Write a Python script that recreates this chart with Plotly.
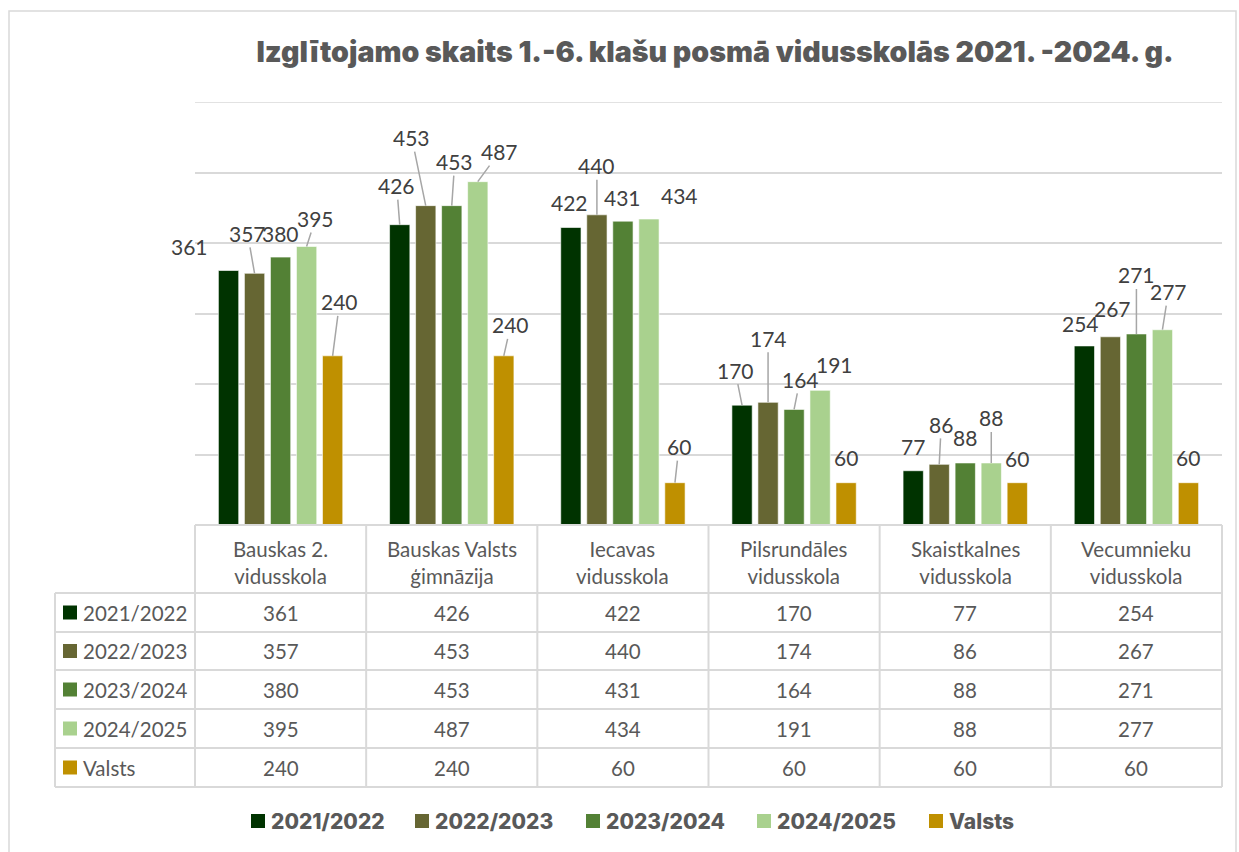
import plotly.graph_objects as go

# ---------------- data ----------------
categories = ["Bauskas 2. vidusskola", "Bauskas Valsts ģimnāzija", "Iecavas vidusskola",
              "Pilsrundāles vidusskola", "Skaistkalnes vidusskola", "Vecumnieku vidusskola"]
header_labels = ["Bauskas 2.<br>vidusskola", "Bauskas Valsts<br>ģimnāzija", "Iecavas<br>vidusskola",
                 "Pilsrundāles<br>vidusskola", "Skaistkalnes<br>vidusskola", "Vecumnieku<br>vidusskola"]
series_names = ["2021/2022", "2022/2023", "2023/2024", "2024/2025", "Valsts"]
v2021 = [361, 426, 422, 170, 77, 254]
v2022 = [357, 453, 440, 174, 86, 267]
v2023 = [380, 453, 431, 164, 88, 271]
v2024 = [395, 487, 434, 191, 88, 277]
valsts = [240, 240, 60, 60, 60, 60]
series_values = [v2021, v2022, v2023, v2024, valsts]
colors = ["#003300", "#666633", "#538135", "#A9D18E", "#BF9000"]
title_text = "Izglītojamo skaits 1.-6. klašu posmā vidusskolās 2021. -2024. g."

# label placement (pixel offsets of label from bar top, leader line shown or not)
label_pos = [
    [(-39, -24, 0), (-3, -39, 1), (-1, -25, 0), (-7, -35, 1), (0, -24, 0), (-4, -22, 0)],
    [(-7, -40, 1), (-14, -68, 1), (0, -49, 1), (0, -64, 1), (2, -40, 1), (2, -28, 0)],
    [(0, -24, 0), (3, -44, 1), (0, -24, 0), (6, -30, 1), (0, -25, 0), (0, -59, 1)],
    [(9, -28, 1), (22, -30, 1), (31, -24, 0), (14, -26, 0), (0, -45, 1), (6, -38, 1)],
    [(7, -54, 1), (7, -31, 1), (4, -36, 1), (0, -25, 0), (0, -24, 0), (0, -25, 0)],
]

# ---------------- layout geometry (pixels) ----------------
W, H = 1239, 852
PL, PR, PT, PB = 195, 1222, 102, 525
BARGAP, GROUPGAP = 0.24, 0.22
TBL_LEFT = 55
ROW_EDGES = [593, 632, 670, 709, 748, 787]
GRID = "#D9D9D9"
TXT = "#595959"
LBL = "#404040"
BODY_FONT = "Lato, Calibri, Carlito, Open Sans, sans-serif"
HEAVY_FONT = "Inter, Roboto, sans-serif"


def X(px):
    return (px - PL) / (PR - PL)


def Y(py):
    return (PB - py) / (PB - PT)


fig = go.Figure()
for name, vals, col in zip(series_names, series_values, colors):
    fig.add_trace(go.Bar(x=categories, y=vals, name=name, marker_color=col,
                         marker_line_color="rgba(255,255,255,0.6)", marker_line_width=1,
                         showlegend=False, hoverinfo="x+y+name"))

shapes = []
annotations = []


def paper_text(px, py, text, font, xanchor="center"):
    annotations.append(dict(x=X(px), y=Y(py), xref="paper", yref="paper", text=text, showarrow=False,
                            xanchor=xanchor, yanchor="middle", align="center", font=font))


# top gridline (600)
shapes.append(dict(type="line", xref="paper", yref="y", x0=0, x1=1, y0=600, y1=600,
                   line=dict(color=GRID, width=1.5), layer="below"))

# data labels
catw = (PR - PL) / len(categories)
slot = (1 - BARGAP) * catw / len(series_names)
for i, vals in enumerate(series_values):
    shift = (i - (len(series_names) - 1) / 2) * slot
    for j, v in enumerate(vals):
        ax, ay, lead = label_pos[i][j]
        annotations.append(dict(
            x=categories[j], y=v, xref="x", yref="y", xshift=shift,
            text=str(v), showarrow=True, ax=ax, ay=ay, arrowhead=0, standoff=0,
            arrowwidth=1.5, arrowcolor="#A6A6A6" if lead else "rgba(0,0,0,0)",
            font=dict(family=BODY_FONT, size=21, color=LBL)))

# data table lines
col_edges = [PL + k * catw for k in range(len(categories) + 1)]
line = dict(color=GRID, width=2)
shapes.append(dict(type="line", xref="paper", yref="paper", x0=X(PL), x1=X(PR), y0=Y(PB), y1=Y(PB), line=line))
for ry in ROW_EDGES:
    shapes.append(dict(type="line", xref="paper", yref="paper", x0=X(TBL_LEFT), x1=X(PR), y0=Y(ry), y1=Y(ry), line=line))
for cx in col_edges:
    shapes.append(dict(type="line", xref="paper", yref="paper", x0=X(cx), x1=X(cx), y0=Y(PB), y1=Y(ROW_EDGES[-1]), line=line))
shapes.append(dict(type="line", xref="paper", yref="paper", x0=X(TBL_LEFT), x1=X(TBL_LEFT),
                   y0=Y(ROW_EDGES[0]), y1=Y(ROW_EDGES[-1]), line=line))

body_font = dict(family=BODY_FONT, size=20.5, color=TXT)
# header texts
for j, lab in enumerate(header_labels):
    paper_text((col_edges[j] + col_edges[j + 1]) / 2, (PB + ROW_EDGES[0]) / 2 + 3, lab, body_font)
# rows
for i, (name, vals, col) in enumerate(zip(series_names, series_values, colors)):
    cy = (ROW_EDGES[i] + ROW_EDGES[i + 1]) / 2
    shapes.append(dict(type="rect", xref="paper", yref="paper", x0=X(63), x1=X(77),
                       y0=Y(cy + 7), y1=Y(cy - 7), fillcolor=col, line=dict(width=0)))
    paper_text(81, cy, name, body_font, xanchor="left")
    for j, v in enumerate(vals):
        paper_text((col_edges[j] + col_edges[j + 1]) / 2, cy, str(v), body_font)

# legend (custom)
leg_x = [251, 415, 586, 757, 929]
leg_y = 821
for name, col, lx in zip(series_names, colors, leg_x):
    shapes.append(dict(type="rect", xref="paper", yref="paper", x0=X(lx), x1=X(lx + 14),
                       y0=Y(leg_y + 7), y1=Y(leg_y - 7), fillcolor=col, line=dict(width=0)))
    paper_text(lx + 18, leg_y, name, dict(family=HEAVY_FONT, size=21, color=TXT, weight=800), xanchor="left")

# outer frame
shapes.append(dict(type="rect", xref="paper", yref="paper", x0=X(9), x1=X(1236), y0=Y(11), y1=Y(870),
                   line=dict(color="#D9D9D9", width=1.5), fillcolor="rgba(0,0,0,0)", layer="below"))

fig.update_layout(
    width=W, height=H,
    margin=dict(l=PL, r=W - PR, t=PT, b=H - PB, pad=0),
    paper_bgcolor="white", plot_bgcolor="white",
    barmode="group", bargap=BARGAP, bargroupgap=GROUPGAP,
    title=dict(text=title_text, x=715 / W, xanchor="center", y=1 - 52 / H, yanchor="middle",
               xref="container", yref="container",
               font=dict(family=HEAVY_FONT, size=28.6, color=TXT, weight=900)),
    xaxis=dict(range=[-0.5, len(categories) - 0.5], autorange=False, showticklabels=False,
               showgrid=False, zeroline=False, showline=False, ticks=""),
    yaxis=dict(range=[0, 600], autorange=False, dtick=100, showticklabels=False, showgrid=True,
               gridcolor=GRID, gridwidth=1.5, zeroline=False, showline=False, ticks=""),
    shapes=shapes, annotations=annotations, showlegend=False,
)

fig.write_html("out.html", config={"displayModeBar": False},
               post_script="document.body.style.margin='0';")
